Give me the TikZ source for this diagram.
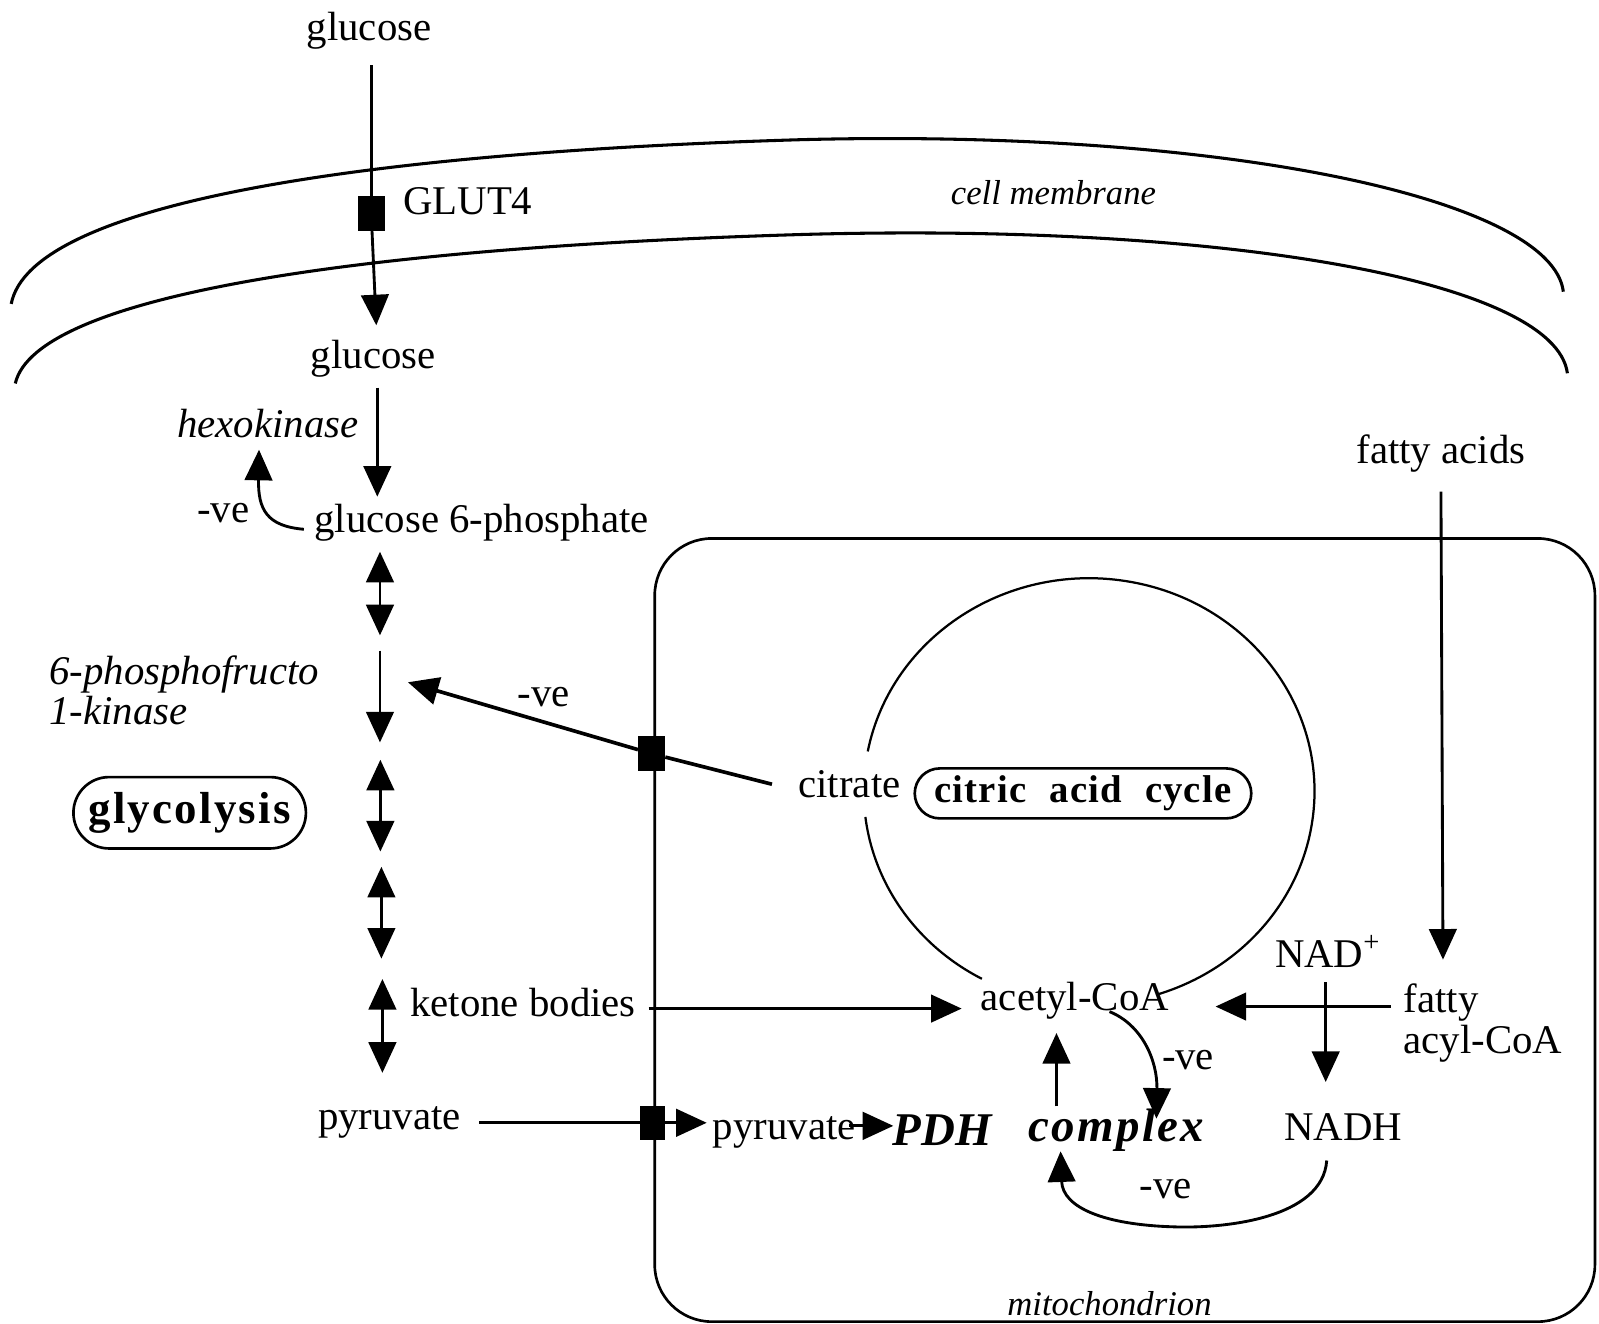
\documentclass[tikz,border=0pt]{standalone}
\usepackage{fontspec}
\setmainfont{Liberation Serif}
\newfontfamily\spacedA{Liberation Serif}[LetterSpace=5]
\newfontfamily\spacedB{Liberation Serif}[LetterSpace=3]
\newfontfamily\spacedC{Liberation Serif}[LetterSpace=5]
\usetikzlibrary{arrows.meta,shapes.misc}
\tikzset{
  lab/.style={font=\fontsize{20pt}{20pt}\selectfont, inner sep=0pt},
  ilab/.style={font=\fontsize{20pt}{20pt}\selectfont\itshape, inner sep=0pt},
  slab/.style={font=\fontsize{17pt}{17pt}\selectfont\itshape, inner sep=0pt},
  pdhlab/.style={font=\fontsize{23pt}{23pt}\selectfont\bfseries\itshape, inner sep=0pt},
  arr/.style={-{Triangle[length=15pt,width=13.5pt]}, line width=1.4pt},
  darr/.style={{Triangle[length=15pt,width=13.5pt]}-{Triangle[length=15pt,width=13.5pt]}, line width=1.4pt},
  plain/.style={line width=1.4pt},
  sqbox/.style={fill, draw, minimum width=13pt, minimum height=16.5pt, inner sep=0pt},
  pill/.style={draw, rounded rectangle, line width=1.3pt, inner sep=0pt},
}
\begin{document}
\begin{tikzpicture}[x=0.5pt,y=-0.5pt]
\useasboundingbox (0,0) rectangle (1568,1298);

% cell membrane
\draw[line width=1.5pt] (11,298) .. controls (30,200) and (350,150) .. (784,137)
   .. controls (1200,126) and (1522,195) .. (1533,286);
\draw[line width=1.5pt] (15,376) .. controls (35,290) and (350,243) .. (784,230)
   .. controls (1200,218) and (1525,275) .. (1537,366);

% mitochondrion
\draw[line width=1.3pt, rounded corners=28pt] (642,528) rectangle (1564,1296);

% citric acid cycle ellipse
\draw[line width=1.1pt] (1068,776) ++(190.8:221 and 209) arc[start angle=190.8, end angle=432.6, x radius=221, y radius=209];
\draw[line width=1.1pt] (1068,776) ++(118.4:221 and 209) arc[start angle=118.4, end angle=173.1, x radius=221, y radius=209];

% text nodes
\node[lab] (glu0) at (362,30) {glucose};
\node[lab, anchor=west] (glutl) at (395,197) {GLUT4};
\node[slab] (cm) at (1033,189) {cell membrane};
\node[lab] (glu1) at (366,352) {glucose};
\node[ilab, anchor=east] (hk) at (352,415) {hexokinase};
\node[lab, anchor=west] (g6p) at (308,513) {glucose 6-phosphate};
\node[lab] (nve1) at (219,503) {-ve};
\node[ilab, anchor=west, align=left] (pfk) at (48,677) {6-phosphofructo\\1-kinase};
\node[pill, minimum width=114pt, minimum height=35pt, font=\fontsize{22pt}{22pt}\selectfont\spacedA\bfseries] (glyc) at (186,797) {glycolysis};
\node[lab, anchor=west] (ket) at (402,983) {ketone bodies};
\node[lab] (pyr0) at (382,1101) {pyruvate};
\node[lab] (fa) at (1413,445) {fatty acids};
\node[lab] (cit) at (833,769) {citrate};
\node[pill, minimum width=165pt, minimum height=24.5pt, font=\fontsize{19pt}{19pt}\selectfont\spacedB\bfseries] (tca) at (1062,778) {citric\hspace{6pt} acid\hspace{6pt} cycle};
\node[lab] (acoa) at (1054,981) {acetyl-CoA};
\node[lab] (nad) at (1302,933) {NAD\textsuperscript{+}};
\node[lab, anchor=west, align=left] (facoa) at (1376,1003) {fatty\\acyl-CoA};
\node[lab] (nadh) at (1317,1105) {NADH};
\node[lab] (pyr1) at (769,1110) {pyruvate};
\node[pdhlab] (pdh) at (924,1108) {PDH};
\node[pdhlab, font=\fontsize{23pt}{23pt}\selectfont\spacedC\bfseries\itshape] (cplx) at (1095,1108) {complex};
\node[lab] (nve2) at (533,684) {-ve};
\node[lab] (nve3) at (1165,1040) {-ve};
\node[lab] (nve4) at (1143,1166) {-ve};
\node[slab] (mito) at (1088,1278) {mitochondrion};

% coordinates for connector ends
\coordinate (g0s) at (364,64);
\coordinate (g1n) at (369,319);
\coordinate (g1s) at (370,380);
\coordinate (g6n) at (370,487);
\coordinate (g6w) at (298,519);
\coordinate (hks) at (254,441);
\coordinate (a1t) at (372.6,541); \coordinate (a1b) at (372.6,623);
\coordinate (a2t) at (372.6,638); \coordinate (a2b) at (372.6,728);
\coordinate (a3t) at (373,745);   \coordinate (a3b) at (373,835);
\coordinate (a4t) at (374,850);   \coordinate (a4b) at (374,940);
\coordinate (a5t) at (375,960);   \coordinate (a5b) at (375,1052);
\coordinate (citw) at (757,769);
\coordinate (pfkt) at (400,669);
\coordinate (kete) at (636,989);
\coordinate (acw) at (943,989);
\coordinate (pyre) at (470,1101);
\coordinate (pyrin) at (693,1101);
\coordinate (py1e) at (833,1104);
\coordinate (pdhw) at (876,1104);
\coordinate (cpn) at (1036,1085);
\coordinate (acs) at (1036,1013);
\coordinate (acse) at (1088,992);
\coordinate (cpne) at (1134,1097);
\coordinate (nadhs) at (1301,1138);
\coordinate (loopb) at (1150,1203);
\coordinate (cps) at (1040,1129);
\coordinate (facw) at (1364,987);
\coordinate (ace) at (1192,987);
\coordinate (nads) at (1300,963);
\coordinate (nadhn) at (1300,1061);
\coordinate (fas) at (1413,482);
\coordinate (facn) at (1415,941);

% transporters
\node[sqbox] (glut) at (364,209) {};
\node[sqbox] (sq2) at (639,739) {};
\node[sqbox, minimum width=12pt] (sq3) at (640,1101) {};

% connectors
\draw[plain] (g0s) -- (glut);
\draw[arr] (glut) -- (g1n);
\draw[arr] (g1s) -- (g6n);
\draw[arr] (g6w) .. controls (262,516) and (253,500) .. (hks);
\draw[darr] (a1t) -- (a1b);
\draw[arr] (a2t) -- (a2b);
\draw[darr] (a3t) -- (a3b);
\draw[darr] (a4t) -- (a4b);
\draw[darr] (a5t) -- (a5b);
\draw[line width=1.8pt] (citw) -- (sq2);
\draw[arr, line width=1.8pt] (sq2) -- (pfkt);
\draw[arr] (kete) -- (acw);
\draw[plain] (pyre) -- (sq3);
\draw[arr] (sq3) -- (pyrin);
\draw[arr] (py1e) -- (pdhw);
\draw[arr] (cpn) -- (acs);
\draw[arr] (acse) .. controls (1120,1005) and (1135,1040) .. (cpne);
\draw[arr] (nadhs) .. controls (1297,1195) and (1200,1205) .. (loopb)
   .. controls (1085,1201) and (1042,1185) .. (cps);
\draw[arr] (facw) -- (ace);
\draw[arr] (nads) -- (nadhn);
\draw[arr] (fas) -- (facn);
\end{tikzpicture}
\end{document}
